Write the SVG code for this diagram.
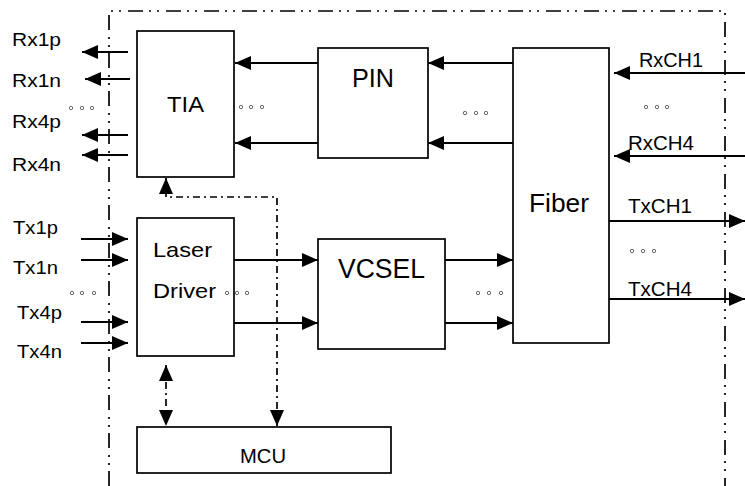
<svg xmlns="http://www.w3.org/2000/svg" width="745" height="486" viewBox="0 0 745 486">
<defs>
<marker id="ah" markerUnits="userSpaceOnUse" markerWidth="17" markerHeight="15" refX="16" refY="7" orient="auto-start-reverse">
<path d="M0,0 L16,7 L0,14 z" fill="#000"/>
</marker>
<style>
.box{fill:#fff;stroke:#000;stroke-width:1.7}
.t{font-family:"Liberation Sans",Arial,sans-serif;fill:#000}
.w{stroke:#000;stroke-width:2;fill:none;marker-end:url(#ah)}
.dd{stroke:#000;stroke-width:1.7;fill:none;stroke-dasharray:15 6 2 6 2 7}
.dc{stroke:#000;stroke-width:1.7;fill:none;stroke-dasharray:7 4 2 4}
.dot{fill:none;stroke:#444;stroke-width:0.8}
</style>
</defs>
<rect width="745" height="486" fill="#fff"/>

<g id="border">
<path class="dd" d="M109,486 V11 H725 V486"/>
</g>

<g id="connectors">
<line class="w" x1="128" y1="52" x2="82" y2="52"/>
<line class="w" x1="130" y1="79" x2="85" y2="79"/>
<line class="w" x1="128" y1="135" x2="82" y2="135"/>
<line class="w" x1="128" y1="155" x2="82" y2="155"/>
<line class="w" x1="81" y1="239" x2="128" y2="239"/>
<line class="w" x1="81" y1="260" x2="128" y2="260"/>
<line class="w" x1="81" y1="322" x2="128" y2="322"/>
<line class="w" x1="81" y1="343" x2="128" y2="343"/>
<line class="w" x1="318" y1="63" x2="235" y2="63"/>
<line class="w" x1="318" y1="143" x2="235" y2="143"/>
<line class="w" x1="513" y1="63" x2="428" y2="63"/>
<line class="w" x1="513" y1="143" x2="428" y2="143"/>
<line class="w" x1="745" y1="73" x2="614" y2="73"/>
<line class="w" x1="745" y1="156" x2="614" y2="156"/>
<line class="w" x1="609" y1="221" x2="745" y2="221"/>
<line class="w" x1="609" y1="299" x2="745" y2="299"/>
<line class="w" x1="234" y1="260" x2="318" y2="260"/>
<line class="w" x1="234" y1="323" x2="318" y2="323"/>
<line class="w" x1="445" y1="260" x2="513" y2="260"/>
<line class="w" x1="445" y1="323" x2="513" y2="323"/>
<path class="dc" d="M166,365 V426" marker-start="url(#ah)" marker-end="url(#ah)"/>
<path class="dc" d="M277,426 V197 H166 V178" marker-start="url(#ah)" marker-end="url(#ah)"/>
</g>

<g id="TIA">
<rect class="box" x="137" y="31" width="97" height="146"/>
<text class="t" x="167" y="112" font-size="22" textLength="37" lengthAdjust="spacingAndGlyphs">TIA</text>
</g>
<g id="PIN">
<rect class="box" x="318" y="48" width="110" height="110"/>
<text class="t" x="352" y="87" font-size="26" textLength="42" lengthAdjust="spacingAndGlyphs">PIN</text>
</g>
<g id="Fiber">
<rect class="box" x="513" y="48" width="96" height="295"/>
<text class="t" x="529" y="212" font-size="26" textLength="60" lengthAdjust="spacingAndGlyphs">Fiber</text>
</g>
<g id="LaserDriver">
<rect class="box" x="137" y="218" width="97" height="138"/>
<text class="t" x="153" y="257" font-size="21" textLength="59" lengthAdjust="spacingAndGlyphs">Laser</text>
<text class="t" x="153" y="298" font-size="21" textLength="63" lengthAdjust="spacingAndGlyphs">Driver</text>
</g>
<g id="VCSEL">
<rect class="box" x="318" y="239" width="127" height="110"/>
<text class="t" x="338" y="278" font-size="27" textLength="87" lengthAdjust="spacingAndGlyphs">VCSEL</text>
</g>
<g id="MCU">
<rect class="box" x="137" y="427" width="254" height="46"/>
<text class="t" x="240" y="463" font-size="20" textLength="46" lengthAdjust="spacingAndGlyphs">MCU</text>
</g>

<g id="labels">
<text class="t" x="12" y="46" font-size="18" textLength="49" lengthAdjust="spacingAndGlyphs">Rx1p</text>
<text class="t" x="12" y="87" font-size="18" textLength="49" lengthAdjust="spacingAndGlyphs">Rx1n</text>
<text class="t" x="12" y="128" font-size="18" textLength="49" lengthAdjust="spacingAndGlyphs">Rx4p</text>
<text class="t" x="12" y="171" font-size="18" textLength="49" lengthAdjust="spacingAndGlyphs">Rx4n</text>
<text class="t" x="13" y="234" font-size="18" textLength="45" lengthAdjust="spacingAndGlyphs">Tx1p</text>
<text class="t" x="13" y="274" font-size="18" textLength="45" lengthAdjust="spacingAndGlyphs">Tx1n</text>
<text class="t" x="17" y="319" font-size="18" textLength="45" lengthAdjust="spacingAndGlyphs">Tx4p</text>
<text class="t" x="17" y="358" font-size="18" textLength="45" lengthAdjust="spacingAndGlyphs">Tx4n</text>
<text class="t" x="639" y="67" font-size="20" textLength="64" lengthAdjust="spacingAndGlyphs">RxCH1</text>
<text class="t" x="628" y="150" font-size="20" textLength="66" lengthAdjust="spacingAndGlyphs">RxCH4</text>
<text class="t" x="628" y="213" font-size="20" textLength="64" lengthAdjust="spacingAndGlyphs">TxCH1</text>
<text class="t" x="628" y="296" font-size="20" textLength="64" lengthAdjust="spacingAndGlyphs">TxCH4</text>
</g>

<g id="ellipses" class="dot">
<circle cx="71" cy="108" r="1.7"/><circle cx="82" cy="108" r="1.7"/><circle cx="92" cy="108" r="1.7"/>
<circle cx="241" cy="107" r="1.7"/><circle cx="251" cy="107" r="1.7"/><circle cx="262" cy="107" r="1.7"/>
<circle cx="465" cy="113" r="1.7"/><circle cx="476" cy="113" r="1.7"/><circle cx="486" cy="113" r="1.7"/>
<circle cx="646" cy="107" r="1.7"/><circle cx="657" cy="107" r="1.7"/><circle cx="667" cy="107" r="1.7"/>
<circle cx="632" cy="251" r="1.7"/><circle cx="643" cy="251" r="1.7"/><circle cx="654" cy="251" r="1.7"/>
<circle cx="72" cy="293" r="1.7"/><circle cx="82" cy="293" r="1.7"/><circle cx="94" cy="293" r="1.7"/>
<circle cx="227" cy="293" r="1.7"/><circle cx="237" cy="293" r="1.7"/><circle cx="247" cy="293" r="1.7"/>
<circle cx="478" cy="293" r="1.7"/><circle cx="489" cy="293" r="1.7"/><circle cx="501" cy="293" r="1.7"/>
</g>
</svg>
